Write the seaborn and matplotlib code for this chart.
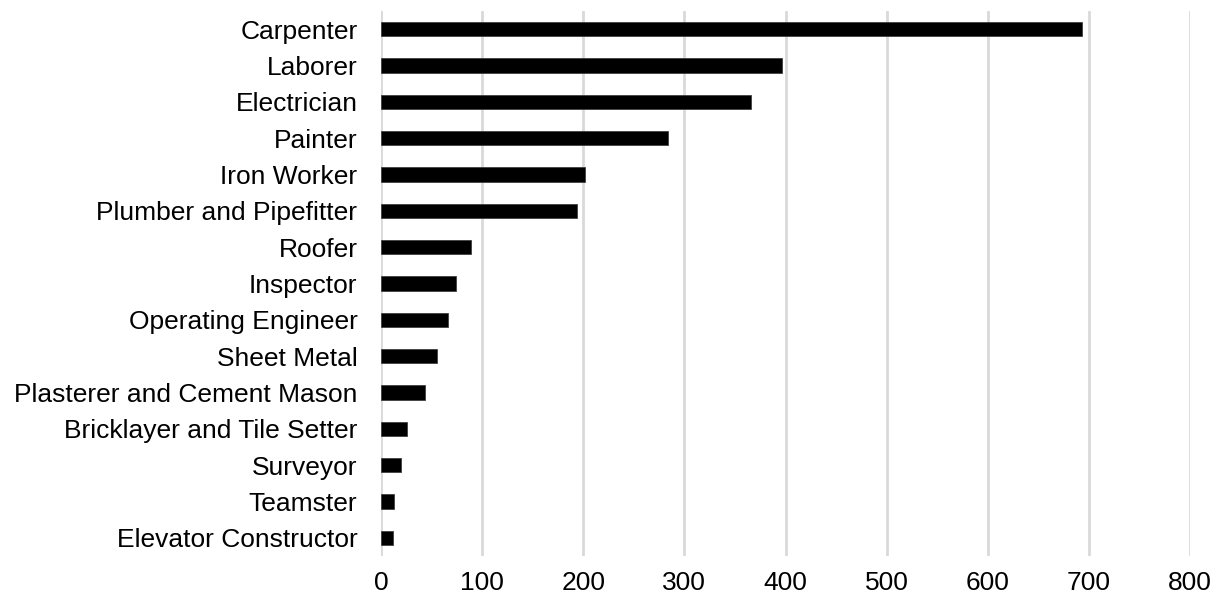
import pandas as pd
import numpy as np
import matplotlib
matplotlib.use("Agg")
import matplotlib.pyplot as plt
import seaborn as sns

# trades and counts
trades = ["Carpenter", "Laborer", "Electrician", "Painter", "Iron Worker",
          "Plumber and Pipefitter", "Roofer", "Inspector", "Operating Engineer",
          "Sheet Metal", "Plasterer and Cement Mason", "Bricklayer and Tile Setter",
          "Surveyor", "Teamster", "Elevator Constructor"]
counts = [693, 397, 366, 284, 202, 194, 89, 74, 66, 55, 44, 26, 20, 13, 12]
xticks = [0, 100, 200, 300, 400, 500, 600, 700, 800]

df = pd.DataFrame({"Trade": trades, "Count": counts})

sns.set_style("white")
plt.rcParams["font.family"] = ["Liberation Sans", "DejaVu Sans"]

fig = plt.figure(figsize=(12.2, 6), dpi=100)
ax = fig.add_axes([381 / 1220, 1 - 556 / 600, (1190 - 381) / 1220, 545 / 600])

sns.barplot(data=df, x="Count", y="Trade", orient="h", color="black",
            width=0.39, edgecolor="#404040", linewidth=0.6, ax=ax, zorder=3)

ax.set_xlim(0, 800)
ax.set_ylim(14.5, -0.5)
ax.set_xticks(xticks)
ax.set_xticklabels([str(t) for t in xticks])
ax.grid(axis="x", color="#d9d9d9", linewidth=2, zorder=0)
ax.grid(axis="y", visible=False)
for s in ax.spines.values():
    s.set_visible(False)
ax.tick_params(axis="both", length=0, labelsize=19, colors="black")
ax.tick_params(axis="y", pad=17)
ax.tick_params(axis="x", pad=11)
ax.set_xlabel("")
ax.set_ylabel("")

fig.savefig("out.png", dpi=100)
